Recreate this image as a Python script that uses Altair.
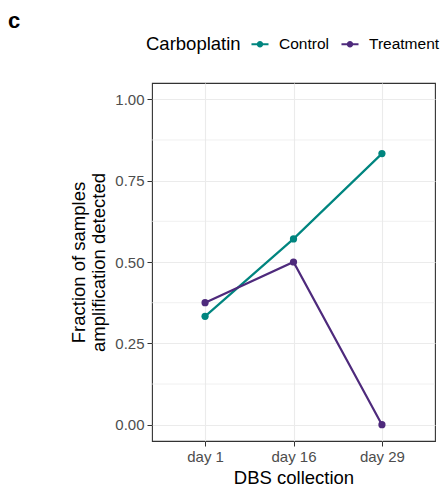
import altair as alt
import pandas as pd

# Fraction of samples with amplification detected, per collection day and arm
days = ["day 1", "day 16", "day 29"]
control = [0.333, 0.571, 0.833]
treatment = [0.375, 0.500, 0.000]
groups = ["Control", "Treatment"]
colors = ["#00857F", "#4E2A7C"]

major_ticks = [0.0, 0.25, 0.5, 0.75, 1.0]
minor_ticks = [0.125, 0.375, 0.625, 0.875]

df = pd.DataFrame({
    "day": days * 2,
    "frac": control + treatment,
    "Carboplatin": [groups[0]] * len(days) + [groups[1]] * len(days),
})
minor_df = pd.DataFrame({"frac": minor_ticks})

FONT = "Liberation Sans"
# line with a dot in the middle, like a line+point legend key
glyph = ("M-1,-0.12L1,-0.12L1,0.12L-1,0.12Z "
         "M0.38,0A0.38,0.38 0 1,1 -0.38,0A0.38,0.38 0 1,1 0.38,0Z")

y_title = ["Fraction of samples", "amplification detected"]
y_scale = alt.Scale(domain=[-0.05, 1.05], nice=False, zero=False)
y_axis = alt.Axis(values=major_ticks, format=".2f", domain=False, grid=True,
                  tickColor="#333333", tickSize=5, labelPadding=3,
                  titlePadding=6, gridColor="#EBEBEB", gridWidth=1.1)

x_enc = alt.X("day:N", sort=days, title="DBS collection",
              scale=alt.Scale(type="point", padding=0.6),
              axis=alt.Axis(labelAngle=0, domain=False, grid=True,
                            tickColor="#333333", tickSize=5, labelPadding=3,
                            titlePadding=4, gridColor="#EBEBEB", gridWidth=1.1))
y_enc = alt.Y("frac:Q", title=y_title, scale=y_scale, axis=y_axis)
color_enc = alt.Color("Carboplatin:N", sort=groups,
                      scale=alt.Scale(domain=groups, range=colors),
                      legend=alt.Legend(orient="none", direction="horizontal",
                                        legendX=-6, legendY=-48,
                                        titleOrient="left", titlePadding=10,
                                        symbolType=glyph, symbolSize=290,
                                        symbolStrokeWidth=0, labelOffset=10,
                                        columnPadding=12))

# minor gridlines sit underneath the data
minor = alt.Chart(minor_df).mark_rule(color="#EBEBEB", strokeWidth=0.7).encode(y=y_enc)
lines = alt.Chart(df).mark_line(strokeWidth=2.2).encode(x=x_enc, y=y_enc, color=color_enc)
points = alt.Chart(df).mark_point(filled=True, size=52, opacity=1).encode(
    x=x_enc, y=y_enc, color=color_enc)

chart = (
    alt.layer(minor, lines, points)
    .properties(
        width=283, height=358,
        autosize=alt.AutoSizeParams(type="none"),
        padding={"left": 152, "top": 83, "right": 9, "bottom": 48},
        title=alt.TitleParams("c", anchor="start", frame="group", dx=-144, dy=2,
                              font=FONT, fontSize=22, fontWeight="bold", color="black"),
    )
    .configure_view(stroke="#333333", strokeWidth=1.1)
    .configure_axis(labelFont=FONT, titleFont=FONT, labelFontSize=15,
                    titleFontSize=18.5, labelColor="#4D4D4D", titleColor="black",
                    titleFontWeight="normal", titleLineHeight=20)
    .configure_legend(labelFont=FONT, titleFont=FONT, labelFontSize=15.5,
                      titleFontSize=18.5, titleFontWeight="normal",
                      labelColor="black", titleColor="black")
)

chart.save("out.html", embed_options={"renderer": "svg", "actions": False})
